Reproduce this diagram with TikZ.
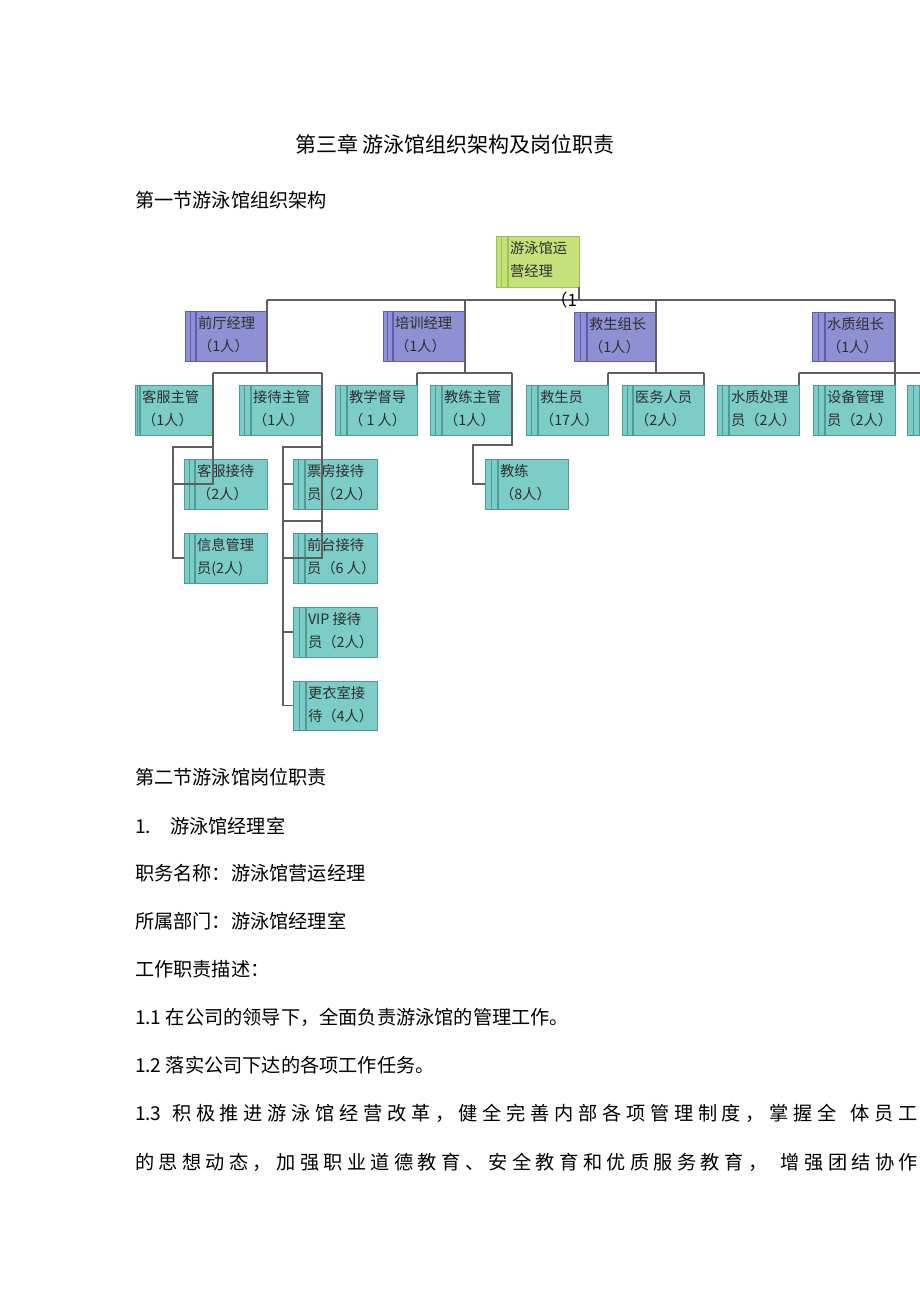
\documentclass[tikz,border=0pt]{standalone}
\usepackage{fontspec}
\setmainfont{Noto Sans CJK SC}
\definecolor{tealfill}{HTML}{7CCCC8}
\definecolor{tealline}{HTML}{4E9C99}
\definecolor{purpfill}{HTML}{8F8FD3}
\definecolor{purpline}{HTML}{5C5CB4}
\definecolor{grnfill}{HTML}{C6E07A}
\definecolor{grnline}{HTML}{9CC34E}
\definecolor{conncol}{HTML}{5F5F5F}
\definecolor{boxtxt}{HTML}{2E2E2E}
\tikzset{
  tealstripe/.style={fill=tealfill, draw=tealline, line width=0.8pt},
  tealbox/.style={fill=tealfill, draw=tealline, line width=0.8pt, inner sep=0pt, outer sep=0pt},
  purpstripe/.style={fill=purpfill, draw=purpline, line width=0.8pt},
  purpbox/.style={fill=purpfill, draw=purpline, line width=0.8pt, inner sep=0pt, outer sep=0pt},
  grnstripe/.style={fill=grnfill, draw=grnline, line width=0.8pt},
  grnbox/.style={fill=grnfill, draw=grnline, line width=0.8pt, inner sep=0pt, outer sep=0pt},
  boxtext/.style={inner sep=0pt, outer sep=0pt, text=boxtxt, font=\fontsize{14.3pt}{16pt}\selectfont},
  conn/.style={draw=conncol, line width=1.2pt},
  body/.style={inner sep=0pt, outer sep=0pt, text=black, font=\fontsize{19.2pt}{23pt}\selectfont},
  titletext/.style={inner sep=0pt, outer sep=0pt, text=black, font=\fontsize{21pt}{25pt}\selectfont}
}
% #1 name #2 stripe x #3 main x #4 right x #5 top y #6 bottom y #7 kind #8 line1 #9 line2
\newcommand\orgbox[9]{%
  \path[#7stripe] (#2,#5) rectangle ({(#2+#3-1)/2},#6);
  \path[#7stripe] ({(#2+#3-1)/2},#5) rectangle ({#3-1},#6);
  \node[#7box, anchor=north west, minimum width={(#4-#3)*1pt}, minimum height={(#6-#5)*1pt}] (#1) at (#3,#5) {};
  \coordinate (#1w) at (#2,{(#5+#6)/2});
  \node[boxtext, anchor=base west] (#1a) at ({#3+2},{#5+17}) {#8};
  \node[boxtext, anchor=base west] (#1b) at ({#3+2},{#5+40}) {#9};
}
\def\sprloop#1{\ifx\relax#1\else#1\hskip 0pt plus 1fil\relax\expandafter\sprloop\fi}
\newcommand\spreadline[1]{\sprloop#1\relax}
\begin{document}
\begin{tikzpicture}[x=1pt,y=-1pt]
\useasboundingbox[fill=white] (0,0) rectangle (920,1303);

% headings
\node[titletext, anchor=base west] (title) at (295,152) {第三章 游泳馆组织架构及岗位职责};
\node[body, anchor=base west] (sec1) at (135,207) {第一节游泳馆组织架构};

% boxes
\orgbox{gm}{496}{508}{579}{236}{287}{grn}{游泳馆运}{营经理}
\orgbox{qt}{185}{196}{267}{311}{361}{purp}{前厅经理}{（1人）}
\orgbox{px}{383}{393}{465}{311}{361}{purp}{培训经理}{（1人）}
\orgbox{jz}{574}{587}{656}{312}{361}{purp}{救生组长}{（1人）}
\orgbox{sz}{812}{825}{895}{312}{361}{purp}{水质组长}{（1人）}

\orgbox{kf}{135}{140}{213}{385}{435}{teal}{客服主管}{（1人）}
\orgbox{jd}{239}{251}{322}{385}{435}{teal}{接待主管}{（1人）}
\orgbox{jx}{335}{347}{417}{385}{435}{teal}{教学督导}{（ 1 人）}
\orgbox{jl}{430}{442}{512}{385}{435}{teal}{教练主管}{（1人）}
\orgbox{jsy}{526}{538}{608}{385}{435}{teal}{救生员}{（17人）}
\orgbox{yw}{622}{633}{704}{385}{435}{teal}{医务人员}{（2人）}
\orgbox{szcl}{717}{729}{799}{385}{435}{teal}{水质处理}{员（2人）}
\orgbox{sb}{813}{825}{895}{385}{435}{teal}{设备管理}{员（2人）}
\path[tealstripe] (907,385) rectangle (913,435);
\path[tealstripe] (913,385) rectangle (919.5,435);

\orgbox{kfjd}{184}{195}{267}{459}{509}{teal}{客服接待}{（2人）}
\orgbox{xx}{184}{195}{267}{533}{583}{teal}{信息管理}{员(2人)}
\orgbox{pf}{293}{305}{377}{459}{509}{teal}{票房接待}{员（2人）}
\orgbox{qtjd}{293}{305}{377}{533}{583}{teal}{前台接待}{员（6 人）}
\orgbox{vip}{293}{306}{377}{607}{657}{teal}{VIP 接待}{员（2人）}
\orgbox{gy}{293}{306}{377}{681}{730}{teal}{更衣室接}{待（4人）}
\orgbox{coach}{485}{498}{568}{459}{509}{teal}{教练}{（8人）}

% connectors
\coordinate (bus) at (0,300);
\coordinate (bus2) at (0,373);
\coordinate (offR) at (920,373);
\draw[conn] (gm.south east) -- (gm.south east |- bus);
\draw[conn] (qt.east |- bus) -- (sz.east |- bus);
\draw[conn] (qt.east |- bus) -- (qt.east |- bus2);
\draw[conn] (px.east |- bus) -- (px.east |- bus2);
\draw[conn] (jz.east |- bus) -- (jz.east |- bus2);
\draw[conn] (sz.east |- bus) -- (sb.north east);
\node[inner sep=0pt, outer sep=0pt, text=black, anchor=base east, font=\fontsize{17pt}{19pt}\selectfont] (one) at (577,306) {（1};

\draw[conn] (kf.east |- bus2) -- (jd.east |- bus2);
\draw[conn] (jx.east |- bus2) -- (jl.east |- bus2);
\draw[conn] (jsy.east |- bus2) -- (yw.east |- bus2);
\draw[conn] (szcl.east |- bus2) -- (offR);
\draw[conn] (jx.east |- bus2) -- (jx.north east);
\draw[conn] (jsy.east |- bus2) -- (jsy.north east);
\draw[conn] (yw.east |- bus2) -- (yw.north east);
\draw[conn] (szcl.east |- bus2) -- (szcl.north east);

% customer service group
\coordinate (kfr) at (173,447);
\draw[conn] (kf.east |- bus2) -- (kf.east |- kfjd.center) -- (kfr |- kfjd.center);
\draw[conn] (kf.east |- kfr) -- (kfr) -- (kfr |- xxw) -- (xxw);

% reception group
\coordinate (jdr) at (283,447);
\coordinate (jdm) at (283,521);
\draw[conn] (jd.east |- bus2) -- (jd.east |- qtjd.center) -- (jdr |- qtjd.center);
\draw[conn] (jd.east |- jdr) -- (jdr) -- (jdr |- gyw) -- (gyw);
\draw[conn] (jdm) -- (jd.east |- jdm);
\draw[conn] (jdr |- pfw) -- (pfw);
\draw[conn] (jdr |- vipw) -- (vipw);

% coach group
\coordinate (jlr) at (473,445);
\draw[conn] (jl.east |- bus2) -- (jl.east |- jlr) -- (jlr) -- (jlr |- coachw) -- (coachw);

% body text
\node[body, anchor=base west] (sec2) at (135,784) {第二节游泳馆岗位职责};
\node[body, anchor=base west] (n1) at (135,833) {1.};
\node[body, anchor=base west] (n1t) at (170,833) {游泳馆经理室};
\node[body, anchor=base west] (l1) at (135,880) {职务名称：游泳馆营运经理};
\node[body, anchor=base west] (l2) at (135,928) {所属部门：游泳馆经理室};
\node[body, anchor=base west] (l3) at (135,976) {工作职责描述：};
\node[body, anchor=base west] (l4) at (135,1024) {1.1 在公司的领导下，全面负责游泳馆的管理工作。};
\node[body, anchor=base west] (l5) at (135,1072) {1.2 落实公司下达的各项工作任务。};
\node[body, anchor=base west] (l6) at (135,1120) {\hbox to 783pt{1.3\hskip 0.3em plus 1fil\spreadline{积极推进游泳馆经营改革，健全完善内部各项管理制度，掌握全}\hskip 0.25em plus 1fil\spreadline{体员工}\unskip}};
\node[body, anchor=base west] (l7) at (135,1169) {\hbox to 783pt{\spreadline{的思想动态，加强职业道德教育、安全教育和优质服务教育，}\hskip 0.25em plus 1fil\spreadline{增强团结协作}\unskip}};
\end{tikzpicture}
\end{document}
